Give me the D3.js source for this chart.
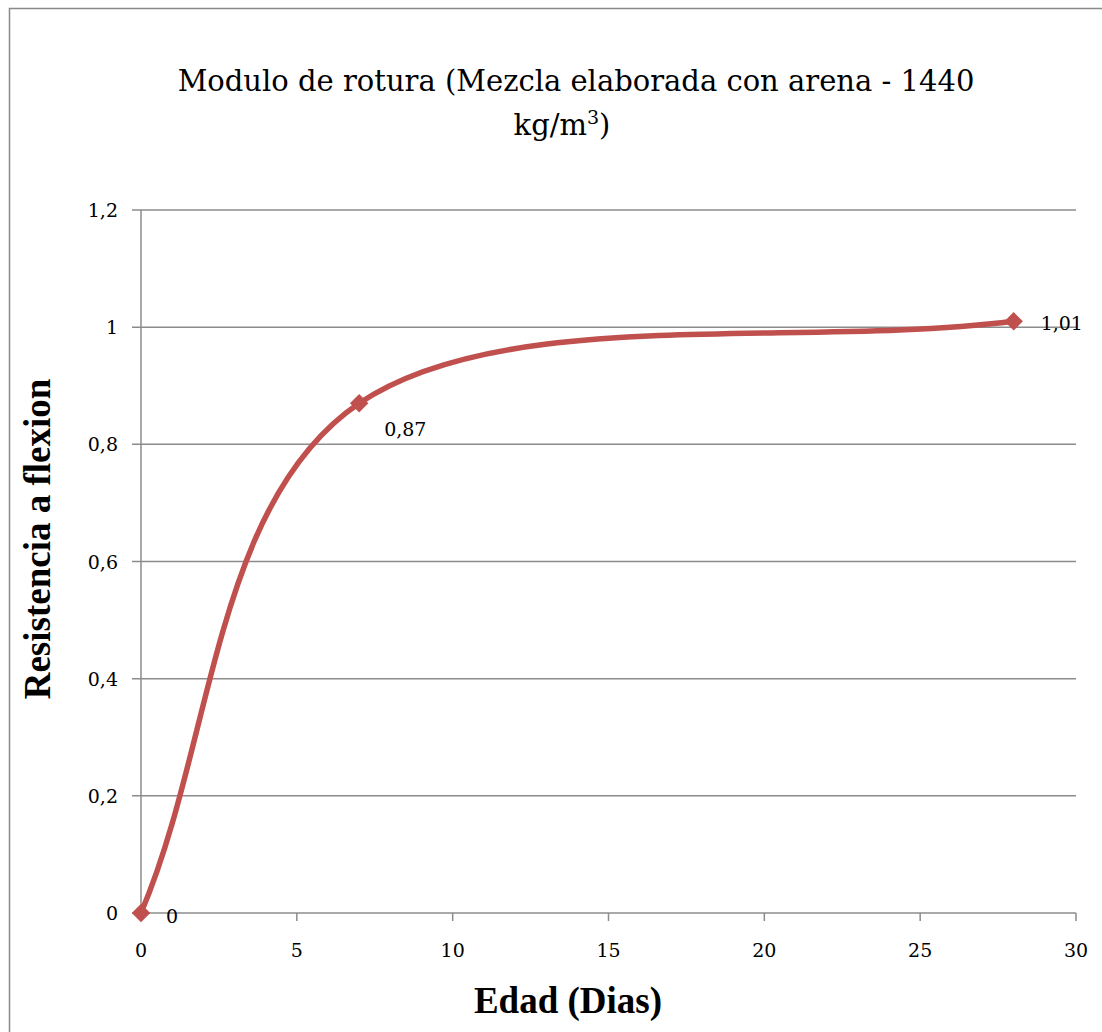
<!DOCTYPE html>
<html>
<head>
<meta charset="utf-8">
<script src="https://cdn.jsdelivr.net/npm/d3@7"></script>
<style>
  body { margin: 0; background: #fff; }
  svg { display: block; }
  svg text { font-family: "DejaVu Serif", serif; }
  svg text.bold { font-family: "Liberation Serif", "Times New Roman", serif; font-weight: 700; }
</style>
</head>
<body>
<div id="chart"></div>
<script>
const edad = [0, 7, 28];
const resistencia = [0, 0.87, 1.01];
const pointLabels = ["0", "0,87", "1,01"];
const xTicks = [0, 5, 10, 15, 20, 25, 30];
const yTicks = [0, 0.2, 0.4, 0.6, 0.8, 1, 1.2];

const width = 1102, height = 1032;
const fmt = (d) => String(d).replace(".", ",");

// Excel-style smoothed line: cubic bezier, 1/6 handles, reflected end points
class ExcelSmooth {
  constructor(context) { this._context = context; }
  areaStart() {}
  areaEnd() {}
  lineStart() { this._pts = []; }
  point(px, py) { this._pts.push([+px, +py]); }
  lineEnd() {
    const p = this._pts, n = p.length, c = this._context;
    if (!n) return;
    c.moveTo(p[0][0], p[0][1]);
    if (n === 2) { c.lineTo(p[1][0], p[1][1]); return; }
    const get = (i) => {
      if (i < 0) return [2 * p[0][0] - p[1][0], 2 * p[0][1] - p[1][1]];
      if (i >= n) return [2 * p[n - 1][0] - p[n - 2][0], 2 * p[n - 1][1] - p[n - 2][1]];
      return p[i];
    };
    for (let i = 0; i < n - 1; i++) {
      const a = get(i - 1), b = p[i], d = p[i + 1], e = get(i + 2);
      c.bezierCurveTo(
        b[0] + (d[0] - a[0]) / 6, b[1] + (d[1] - a[1]) / 6,
        d[0] - (e[0] - b[0]) / 6, d[1] - (e[1] - b[1]) / 6,
        d[0], d[1]);
    }
  }
}
const curveExcel = (context) => new ExcelSmooth(context);

const svg = d3.select("#chart").append("svg")
  .attr("width", width)
  .attr("height", height);

// chart frame
svg.append("rect")
  .attr("x", 9.5).attr("y", 8.5)
  .attr("width", width + 10).attr("height", height + 10)
  .attr("fill", "#fff").attr("stroke", "#898989").attr("stroke-width", 1.5);

const x = d3.scaleLinear().domain([0, 30]).range([141, 1076]);
const y = d3.scaleLinear().domain([0, 1.2]).range([913, 210]);

// horizontal gridlines, extending past the axis as ticks
svg.append("g")
  .selectAll("line")
  .data(yTicks)
  .join("line")
  .attr("x1", 132).attr("x2", x(30))
  .attr("y1", (d) => y(d)).attr("y2", (d) => y(d))
  .attr("stroke", "#8c8c8c").attr("stroke-width", 1.5);

// y axis line
svg.append("line")
  .attr("x1", x(0)).attr("x2", x(0))
  .attr("y1", y(1.2)).attr("y2", y(0))
  .attr("stroke", "#8c8c8c").attr("stroke-width", 1.5);

// x ticks
svg.append("g")
  .selectAll("line")
  .data(xTicks)
  .join("line")
  .attr("x1", (d) => x(d)).attr("x2", (d) => x(d))
  .attr("y1", y(0)).attr("y2", y(0) + 8)
  .attr("stroke", "#8c8c8c").attr("stroke-width", 1.5);

svg.append("g")
  .selectAll("text")
  .data(xTicks)
  .join("text")
  .attr("x", (d) => x(d))
  .attr("y", 957)
  .attr("text-anchor", "middle")
  .attr("font-size", 19)
  .text((d) => d);

svg.append("g")
  .selectAll("text")
  .data(yTicks)
  .join("text")
  .attr("x", 118)
  .attr("y", (d) => y(d) + 7)
  .attr("text-anchor", "end")
  .attr("font-size", 19)
  .text(fmt);

// series
const line = d3.line()
  .x((d) => x(d[0]))
  .y((d) => y(d[1]))
  .curve(curveExcel);

const pts = edad.map((d, i) => [d, resistencia[i]]);

svg.append("path")
  .datum(pts)
  .attr("d", line)
  .attr("fill", "none")
  .attr("stroke", "#C0504D")
  .attr("stroke-width", 5.5)
  .attr("stroke-linecap", "round");

svg.append("g")
  .selectAll("path")
  .data(pts)
  .join("path")
  .attr("d", d3.symbol(d3.symbolSquare, 170))
  .attr("transform", (d) => `translate(${x(d[0])},${y(d[1])}) rotate(45)`)
  .attr("fill", "#C0504D");

// data labels
const labelOffsets = [[25, 10], [25, 33], [27, 9]];
svg.append("g")
  .selectAll("text")
  .data(pts)
  .join("text")
  .attr("x", (d, i) => x(d[0]) + labelOffsets[i][0])
  .attr("y", (d, i) => y(d[1]) + labelOffsets[i][1])
  .attr("font-size", 19)
  .text((d, i) => pointLabels[i]);

// title
const title = svg.append("text")
  .attr("text-anchor", "middle")
  .attr("font-size", 29);
title.append("tspan").attr("x", 576).attr("y", 91)
  .text("Modulo de rotura (Mezcla elaborada con arena - 1440");
const l2 = title.append("tspan").attr("x", 562).attr("y", 135);
l2.append("tspan").text("kg/m");
l2.append("tspan").attr("font-size", 19).attr("dy", -11).text("3");
l2.append("tspan").attr("dy", 11).text(")");

// axis titles
svg.append("text")
  .attr("class", "bold")
  .attr("x", 568).attr("y", 1013)
  .attr("text-anchor", "middle")
  .attr("font-size", 37)
  .text("Edad (Dias)");

svg.append("text")
  .attr("class", "bold")
  .attr("transform", "translate(50,539) rotate(-90)")
  .attr("text-anchor", "middle")
  .attr("font-size", 37)
  .text("Resistencia a flexion");
</script>
</body>
</html>
